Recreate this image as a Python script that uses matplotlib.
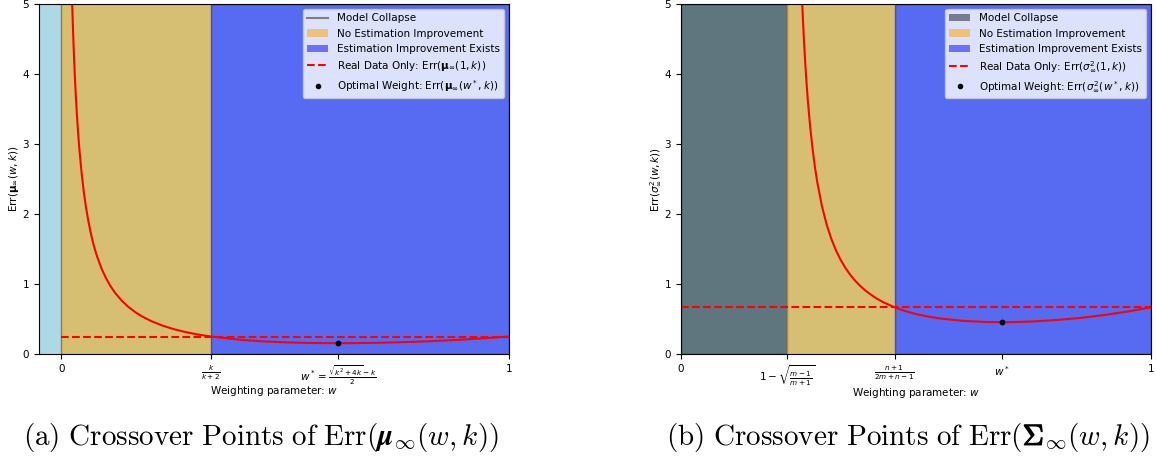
import numpy as np
import matplotlib
matplotlib.use("Agg")
import matplotlib.pyplot as plt
import matplotlib.patheffects as pe
from matplotlib.lines import Line2D
from matplotlib.patches import Patch

# --- values ---
# panel (a): k = 1
w_mu = [0.023, 0.025, 0.0275, 0.03, 0.0325, 0.035, 0.0375, 0.04, 0.045, 0.05, 0.055, 0.06,
        0.065, 0.07, 0.075, 0.08, 0.09, 0.10, 0.11, 0.12, 0.135, 0.15, 0.165, 0.18, 0.20,
        0.225, 0.25, 0.275, 0.30, 1/3, 0.40, 0.45, 0.50, 0.55, 0.60, 0.618, 0.65, 0.70,
        0.75, 0.80, 0.85, 0.90, 0.95, 1.0]
err_mu = [5.25, 4.82, 4.36, 3.98, 3.66, 3.39, 3.15, 2.94, 2.60, 2.32, 2.094, 1.91,
          1.746, 1.61, 1.491, 1.39, 1.216, 1.08, 0.967, 0.874, 0.761, 0.671, 0.598, 0.538, 0.472,
          0.408, 0.357, 0.317, 0.284, 0.25, 0.203, 0.181, 0.167, 0.158, 0.155, 0.1545, 0.1553, 0.159,
          0.1667, 0.177, 0.1905, 0.207, 0.2268, 0.25]
mu_real = 0.25
mu_collapse = 0.0
mu_cross = 1 / 3
mu_opt_w, mu_opt_err = 0.618, 0.1545
mu_ticks = [0, 1 / 3, 0.618, 1]
mu_ticklabels = ["0", r"$\frac{k}{k+2}$", r"$w^* = \frac{\sqrt{k^2+4k}-k}{2}$", "1"]

# panel (b): m = 4, n = 4
w_sig = [0.256, 0.2575, 0.26, 0.2625, 0.265, 0.2675, 0.27, 0.275, 0.28, 0.285, 0.29, 0.30,
         0.31, 0.32, 0.33, 0.34, 0.35, 0.36, 0.37, 0.38, 0.39, 0.40, 0.415, 0.43, 0.4545,
         0.475, 0.50, 0.525, 0.55, 0.60, 0.65, 0.683, 0.70, 0.75, 0.80, 0.85, 0.90, 0.95, 1.0]
err_sig = [5.33, 5.07, 4.70, 4.37, 4.085, 3.834, 3.61, 3.234, 2.93, 2.669, 2.453, 2.109,
           1.847, 1.642, 1.477, 1.341, 1.228, 1.133, 1.051, 0.981, 0.920, 0.867, 0.798, 0.741, 0.667,
           0.618, 0.571, 0.5356, 0.508, 0.473, 0.4566, 0.454, 0.455, 0.465, 0.486, 0.516, 0.556, 0.606, 0.667]
sig_real = 0.667
sig_collapse = 0.2254
sig_cross = 0.4545
sig_opt_w, sig_opt_err = 0.683, 0.454
sig_ticks = [0, 0.2254, 0.4545, 0.683, 1]
sig_ticklabels = ["0", r"$1-\sqrt{\frac{m-1}{m+1}}$", r"$\frac{n+1}{2m+n-1}$", r"$w^*$", "1"]

plt.rcParams["font.size"] = 7.5

fig = plt.figure(figsize=(11.56, 4.59), dpi=100)
ax1 = fig.add_axes([39 / 1156, 105 / 459, 470 / 1156, 350 / 459])
ax2 = fig.add_axes([681 / 1156, 105 / 459, 470 / 1156, 350 / 459])

# --- (a) mean ---
ax1.set_facecolor("lightblue")
ax1.axvspan(mu_collapse, mu_cross, color="orange", alpha=0.5)
ax1.axvspan(mu_cross, 1, color="blue", alpha=0.5)
ax1.axvline(mu_collapse, color="gray", lw=1)
ax1.plot(w_mu, err_mu, color="red", lw=1.5)
ax1.hlines(mu_real, 0, 1, colors="red", linestyles="--", lw=1.5)
ax1.scatter([mu_opt_w], [mu_opt_err], color="black", s=10, zorder=5)
ax1.set_xlim(-0.05, 1)
ax1.set_ylim(0, 5)
ax1.set_xticks(mu_ticks)
ax1.set_xticklabels(mu_ticklabels)
ax1.set_xlabel("Weighting parameter: $w$", labelpad=-2)
ax1.set_ylabel(r"Err($\mathbf{\mu}_\infty(w,k)$)", labelpad=1)
h1 = [Line2D([], [], color="gray", lw=1.5),
      Patch(facecolor="orange", alpha=0.5),
      Patch(facecolor="blue", alpha=0.5),
      Line2D([], [], color="red", ls="--", lw=1.5),
      Line2D([], [], color="black", marker="o", ms=3, ls="none")]
l1 = ["Model Collapse", "No Estimation Improvement", "Estimation Improvement Exists",
      r"Real Data Only: Err($\mathbf{\mu}_\infty(1,k)$)",
      r"Optimal Weight: Err($\mathbf{\mu}_\infty(w^*,k)$)"]
ax1.legend(h1, l1, loc="upper right")

# --- (b) covariance ---
ax2.set_facecolor("lightblue")
ax2.axvspan(0, sig_collapse, color="black", alpha=0.45)
ax2.axvspan(sig_collapse, sig_cross, color="orange", alpha=0.5)
ax2.axvspan(sig_cross, 1, color="blue", alpha=0.5)
ax2.plot(w_sig, err_sig, color="red", lw=1.5)
ax2.axhline(sig_real, color="red", ls="--", lw=1.5)
ax2.scatter([sig_opt_w], [sig_opt_err], color="black", s=10, zorder=5)
ax2.set_xlim(0, 1)
ax2.set_ylim(0, 5)
ax2.set_xticks(sig_ticks)
ax2.set_xticklabels(sig_ticklabels)
ax2.set_xlabel("Weighting parameter: $w$", labelpad=-2)
ax2.set_ylabel(r"Err($\sigma^2_\infty(w,k)$)", labelpad=1)
h2 = [Patch(facecolor="black", alpha=0.45),
      Patch(facecolor="orange", alpha=0.5),
      Patch(facecolor="blue", alpha=0.5),
      Line2D([], [], color="red", ls="--", lw=1.5),
      Line2D([], [], color="black", marker="o", ms=3, ls="none")]
l2 = ["Model Collapse", "No Estimation Improvement", "Estimation Improvement Exists",
      r"Real Data Only: Err($\sigma^2_\infty(1,k)$)",
      r"Optimal Weight: Err($\sigma^2_\infty(w^*,k)$)"]
ax2.legend(h2, l2, loc="upper right")

# captions
cap_y = 1 - 445 / 459
fig.text(261 / 1156, cap_y,
         r"$\mathrm{(a)\ Crossover\ Points\ of\ Err}(\boldsymbol{\mu}_\infty(w,k))$",
         ha="center", va="baseline", fontsize=21, math_fontfamily="cm")

# (b) built from pieces so the Sigma can be emboldened
renderer = fig.canvas.get_renderer()
pieces = [r"$\mathrm{(b)\ Crossover\ Points\ of\ Err}($", r"$\Sigma$", r"${}_\infty(w,k))$"]
texts = []
for i, s in enumerate(pieces):
    t = fig.text(0, cap_y, s, ha="left", va="baseline", fontsize=21, math_fontfamily="cm")
    if i == 1:
        t.set_path_effects([pe.withStroke(linewidth=0.9, foreground="black")])
    texts.append(t)
widths = [t.get_window_extent(renderer).width / fig.bbox.width for t in texts]
x = 908 / 1156 - sum(widths) / 2
for t, wd in zip(texts, widths):
    t.set_x(x)
    x += wd

fig.savefig("out.png", dpi=100)
